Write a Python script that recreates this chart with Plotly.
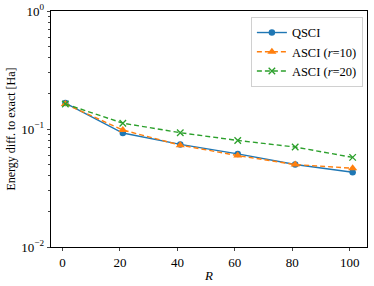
import plotly.graph_objects as go

R = [1, 21, 41, 61, 81, 101]
qsci = [0.166, 0.0925, 0.074, 0.0615, 0.050, 0.043]
asci10 = [0.163, 0.098, 0.073, 0.0595, 0.050, 0.0465]
asci20 = [0.163, 0.112, 0.093, 0.080, 0.0703, 0.0575]

x_ticks = [0, 20, 40, 60, 80, 100]
y_ticks = [0.01, 0.1, 1]
y_ticktext = ["10<sup>−2</sup>", "10<sup>−1</sup>", "10<sup>0</sup>"]

font = "Liberation Serif, Times New Roman, serif"

fig = go.Figure()
fig.add_trace(go.Scatter(x=R, y=qsci, name="QSCI", mode="lines+markers",
                         line=dict(color="#1f77b4", width=1.4),
                         marker=dict(symbol="circle", size=6.5, color="#1f77b4")))
fig.add_trace(go.Scatter(x=R, y=asci10, name="ASCI (<i>r</i>=10)", mode="lines+markers",
                         line=dict(color="#ff7f0e", width=1.4, dash="5px,3px"),
                         marker=dict(symbol="triangle-up", size=8, color="#ff7f0e")))
fig.add_trace(go.Scatter(x=R, y=asci20, name="ASCI (<i>r</i>=20)", mode="lines+markers",
                         line=dict(color="#2ca02c", width=1.4, dash="5px,3px"),
                         marker=dict(symbol="x-thin-open", size=6.5, line=dict(color="#2ca02c", width=1.3))))

minor_vals = [m * 10**e for e in (-2, -1) for m in range(2, 10)]

fig.update_layout(
    width=374, height=286,
    margin=dict(l=51, r=7, t=11, b=39, autoexpand=False),
    paper_bgcolor="white", plot_bgcolor="white",
    font=dict(family=font, size=13, color="black"),
    showlegend=True,
    legend=dict(x=0.987, y=0.975, xanchor="right", yanchor="top",
                bordercolor="#d0d0d0", borderwidth=1, bgcolor="rgba(255,255,255,0.8)",
                font=dict(family=font, size=12.5), tracegroupgap=0, itemwidth=30),
    xaxis=dict(range=[-4, 106], tickvals=x_ticks, ticks="outside", ticklen=3.5,
               showline=True, linecolor="black", linewidth=0.8, mirror=True,
               showgrid=False, zeroline=False,
               title=dict(text="<i>R</i>", font=dict(family=font, size=13), standoff=1)),
    yaxis=dict(type="log", range=[-2, 0], tickvals=y_ticks, ticktext=y_ticktext,
               ticks="outside", ticklen=3.5,
               minor=dict(tickvals=minor_vals, ticks="outside", ticklen=2, showgrid=False),
               showline=True, linecolor="black", linewidth=0.8, mirror=True,
               showgrid=False, zeroline=False,
               title=dict(text="Energy diff. to exact [Ha]", font=dict(family=font, size=12), standoff=3)),
)

fig.write_html("out.html", config={"displayModeBar": False},
               post_script="document.body.style.margin='0';document.body.style.overflow='hidden';")
